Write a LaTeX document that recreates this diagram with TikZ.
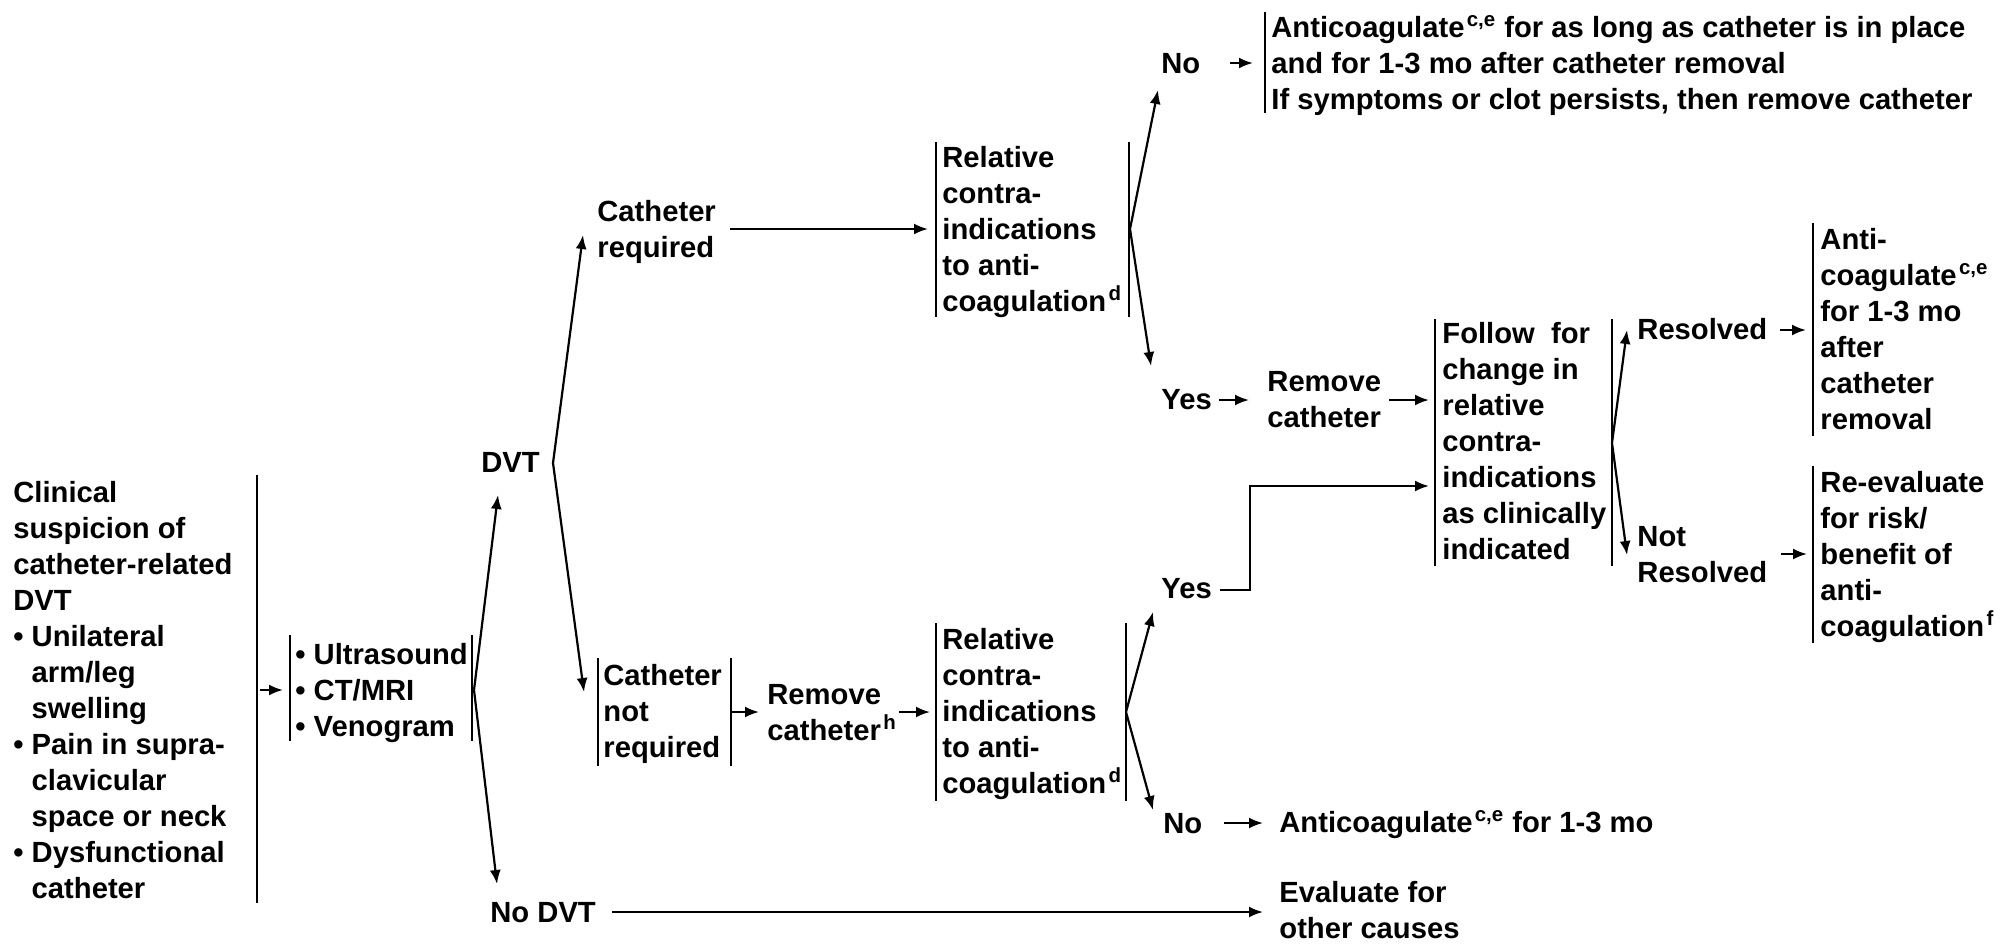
\documentclass[tikz,border=0pt]{standalone}
\usepackage{fontspec}
\setmainfont{Liberation Sans}
\usetikzlibrary{arrows.meta}
\newcommand\txt{\fontsize{14.6}{18}\selectfont\bfseries}
\newcommand\supmark[1]{\kern1.2pt\textsuperscript{#1}}
\newcommand\dotit{\textbullet\ }
\newcommand\dotpad{\hphantom{\textbullet\ }}
\tikzset{
    lbl/.style={align=left, inner sep=0pt, anchor=base west, font=\txt},
    link/.style={-{Latex[length=7pt,width=5.5pt]}, line width=1.1pt},
    bar/.style={line width=1.1pt}
}

\begin{document}
\begin{tikzpicture}[x=0.5pt, y=-0.5pt]
\useasboundingbox (0,0) rectangle (2007,943);

% Presentation and imaging (nodes sit on the baseline of their last line)
\node[lbl] (susp) at (13,898) {Clinical\\suspicion of\\catheter-related\\DVT\\
    \dotit Unilateral\\\dotpad arm/leg\\\dotpad swelling\\
    \dotit Pain in supra-\\\dotpad clavicular\\\dotpad space or neck\\
    \dotit Dysfunctional\\\dotpad catheter};
\node[lbl] (tests) at (295,736) {\dotit Ultrasound\\\dotit CT/MRI\\\dotit Venogram};
\draw[bar] (257,475) -- (257,903);
\draw[bar] (290,635) -- (290,741);
\draw[bar] (472,635) -- (472,741);

% First split
\node[lbl] (dvt) at (481,472) {DVT};
\node[lbl] (nodvt) at (490,922) {No DVT};
\node[lbl] (evalo) at (1279,938) {Evaluate for\\other causes};

% Catheter required branch
\node[lbl] (creq) at (597,257) {Catheter\\required};
\node[lbl] (cr1) at (942,311) {Relative\\contra-\\indications\\to anti-\\coagulation\supmark{d}};
\draw[bar] (936,142) -- (936,317);
\draw[bar] (1129,142) -- (1129,317);
\node[lbl] (no1) at (1161,73) {No};
\node[lbl] (keep) at (1271,109) {Anticoagulate\supmark{c,e} for as long as catheter is in place\\and for 1-3 mo after catheter removal\\If symptoms or clot persists, then remove catheter};
\draw[bar] (1265,12) -- (1265,113);
\node[lbl] (yes1) at (1161,409) {Yes};
\node[lbl] (rmv1) at (1267,427) {Remove\\catheter};
\node[lbl] (follow) at (1442,559) {Follow\ \ for\\change in\\relative\\contra-\\indications\\as clinically\\indicated};
\draw[bar] (1435,319) -- (1435,566);
\draw[bar] (1612,319) -- (1612,566);
\node[lbl] (res) at (1637,339) {Resolved};
\node[lbl] (anti) at (1820,429) {Anti-\\coagulate\supmark{c,e}\\for 1-3 mo\\after\\catheter\\removal};
\draw[bar] (1813,223) -- (1813,436);
\node[lbl] (nres) at (1637,582) {Not\\Resolved};
\node[lbl] (reval) at (1820,636) {Re-evaluate\\for risk/\\benefit of\\anti-\\coagulation\supmark{f}};
\draw[bar] (1813,466) -- (1813,643);

% Catheter not required branch
\node[lbl] (cnreq) at (603,757) {Catheter\\not\\required};
\draw[bar] (598,658) -- (598,766);
\draw[bar] (731,658) -- (731,766);
\node[lbl] (rmv2) at (767,740) {Remove\\catheter\supmark{h}};
\node[lbl] (cr2) at (942,793) {Relative\\contra-\\indications\\to anti-\\coagulation\supmark{d}};
\draw[bar] (936,623) -- (936,801);
\draw[bar] (1126,623) -- (1126,801);
\node[lbl] (yes2) at (1161,598) {Yes};
\node[lbl] (no2) at (1163,833) {No};
\node[lbl] (ac2) at (1279,832) {Anticoagulate\supmark{c,e} for 1-3 mo};

% Branch points and arrow ends
\foreach \n/\p in {f1/{474,690}, dvtin/{498,495}, nodvtin/{497,884},
    f2/{553,463}, creqin/{583,235}, cnreqin/{584,692},
    f3/{1130,229}, no1in/{1158,90}, yes1in/{1151,366},
    f4/{1126,712}, yes2in/{1153,612}, no2in/{1153,810},
    f5/{1612,443}, resin/{1627,330}, nresin/{1627,555},
    suspout/{260,690}, testsin/{283,690},
    creqout/{730,229}, cr1in/{928,229},
    no1out/{1230,63}, keepin/{1253,63},
    yes1out/{1219,400}, rmv1in/{1249,400},
    rmv1out/{1389,400}, follin/{1429,400},
    yes2out/{1220,590}, follin2/{1429,486},
    resout/{1780,330}, antiin/{1806,330},
    nresout/{1781,554}, revalin/{1807,554},
    cnreqout/{731,712}, rmv2in/{759,712},
    rmv2out/{899,712}, cr2in/{930,712},
    no2out/{1224,823}, ac2in/{1263,823},
    nodvtout/{612,912}, evalin/{1263,912}}
    \coordinate (\n) at (\p);

% Forks
\draw[link] (f1) -- (dvtin);
\draw[link] (f1) -- (nodvtin);
\draw[link] (f2) -- (creqin);
\draw[link] (f2) -- (cnreqin);
\draw[link] (f3) -- (no1in);
\draw[link] (f3) -- (yes1in);
\draw[link] (f4) -- (yes2in);
\draw[link] (f4) -- (no2in);
\draw[link] (f5) -- (resin);
\draw[link] (f5) -- (nresin);

% Straight links
\draw[link] (suspout) -- (testsin);
\draw[link] (creqout) -- (cr1in);
\draw[link] (no1out) -- (keepin);
\draw[link] (yes1out) -- (rmv1in);
\draw[link] (rmv1out) -- (follin);
\draw[link] (yes2out) -- ++(30,0) |- (follin2);
\draw[link] (resout) -- (antiin);
\draw[link] (nresout) -- (revalin);
\draw[link] (cnreqout) -- (rmv2in);
\draw[link] (rmv2out) -- (cr2in);
\draw[link] (no2out) -- (ac2in);
\draw[link] (nodvtout) -- (evalin);
\end{tikzpicture}
\end{document}
